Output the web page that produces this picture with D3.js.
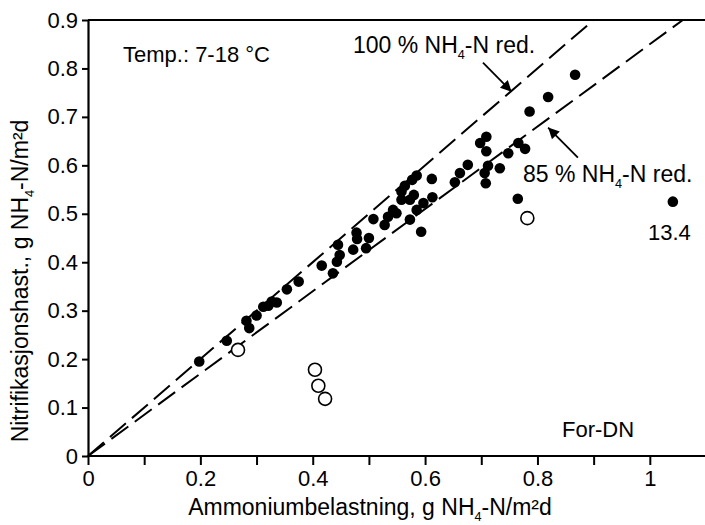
<!DOCTYPE html>
<html>
<head>
<meta charset="utf-8">
<script src="https://cdn.jsdelivr.net/npm/d3@7"></script>
<style>
body { margin: 0; background: #fff; }
text { font-family: "Liberation Sans", Arial, sans-serif; fill: #000; }
</style>
</head>
<body>
<svg id="chart" width="705" height="525"></svg>
<script>
// filled dots: [ammonium load, nitrification rate]
const filledPts = [
    [0.198, 0.195], [0.247, 0.238], [0.282, 0.279], [0.287, 0.264], [0.300, 0.290],
    [0.312, 0.308], [0.321, 0.310], [0.327, 0.319], [0.336, 0.317], [0.354, 0.344],
    [0.375, 0.360], [0.416, 0.393], [0.436, 0.377], [0.443, 0.401], [0.448, 0.415],
    [0.445, 0.436], [0.472, 0.426], [0.478, 0.461], [0.479, 0.448], [0.495, 0.429],
    [0.500, 0.450], [0.508, 0.489], [0.528, 0.477], [0.534, 0.494], [0.543, 0.508],
    [0.549, 0.501], [0.558, 0.546], [0.558, 0.529], [0.564, 0.558], [0.577, 0.570],
    [0.585, 0.579], [0.580, 0.539], [0.573, 0.529], [0.573, 0.488], [0.585, 0.508],
    [0.593, 0.463], [0.597, 0.522], [0.612, 0.572], [0.613, 0.534], [0.653, 0.565],
    [0.662, 0.584], [0.676, 0.601], [0.698, 0.646], [0.709, 0.659], [0.709, 0.629],
    [0.712, 0.599], [0.708, 0.563], [0.706, 0.584], [0.733, 0.594], [0.748, 0.625],
    [0.766, 0.646], [0.778, 0.634], [0.765, 0.531], [0.786, 0.711], [0.819, 0.741],
    [0.867, 0.787], [1.041, 0.525]
];
// open circles
const openPts = [
    [0.267, 0.219], [0.404, 0.178], [0.410, 0.145], [0.422, 0.118], [0.782, 0.491]
];
const xTicks = [0, 0.1, 0.2, 0.3, 0.4, 0.5, 0.6, 0.7, 0.8, 0.9, 1.0];
const xLabels = ['0', '', '0.2', '', '0.4', '', '0.6', '', '0.8', '', '1'];
const yTicks = [0, 0.1, 0.2, 0.3, 0.4, 0.5, 0.6, 0.7, 0.8, 0.9];
const yLabels = ['0', '0.1', '0.2', '0.3', '0.4', '0.5', '0.6', '0.7', '0.8', '0.9'];
// reference lines y = slope * x
const refSlopes = [1.0, 0.85];

const svg = d3.select('#chart');
const mLeft = 88, mRight = 706, mTop = 20, mBottom = 456;

const x = d3.scaleLinear().domain([0, 1.1]).range([mLeft, mRight]);
const y = d3.scaleLinear().domain([0, 0.9]).range([mBottom, mTop]);

// subscript text helper
function richText (g, px, py, parts, size, anchor) {
    let t = g.append('text')
        .attr('x', px).attr('y', py)
        .attr('font-size', size)
        .attr('text-anchor', anchor || 'start');
    parts.forEach((p) => {
        if (p.sub) {
            t.append('tspan').attr('font-size', size * 0.55).attr('dy', size * 0.25).text(p.sub);
            t.append('tspan').attr('dy', -size * 0.25).text(p.after);
        } else {
            t.append('tspan').text(p.t);
        }
    });
    return t;
}

// axes
let xAxis = d3.axisBottom(x)
    .tickValues(xTicks)
    .tickFormat((d, i) => { return xLabels[i]; })
    .tickSize(9)
    .tickPadding(5)
    .tickSizeOuter(0);
let yAxis = d3.axisLeft(y)
    .tickValues(yTicks)
    .tickFormat((d, i) => { return yLabels[i]; })
    .tickSize(6)
    .tickPadding(4)
    .tickSizeOuter(0);

let gx = svg.append('g').attr('transform', 'translate(0,' + mBottom + ')').call(xAxis);
let gy = svg.append('g').attr('transform', 'translate(' + mLeft + ',0)').call(yAxis);
[gx, gy].forEach((g) => {
    g.select('.domain').attr('stroke', '#000').attr('stroke-width', 2.2);
    g.selectAll('.tick line').attr('stroke', '#000').attr('stroke-width', 2);
    g.selectAll('.tick text')
        .attr('font-size', 22)
        .attr('font-family', '"Liberation Sans", Arial, sans-serif')
        .attr('fill', '#000');
});
gx.select('.domain').attr('d', 'M' + mLeft + ',0H705');

// top frame line
svg.append('line')
    .attr('x1', mLeft).attr('x2', 705)
    .attr('y1', mTop).attr('y2', mTop)
    .attr('stroke', '#000').attr('stroke-width', 2.2);

// dashed reference lines
svg.selectAll('line.ref')
    .data(refSlopes)
    .enter()
    .append('line')
    .attr('class', 'ref')
    .attr('x1', x(0)).attr('y1', y(0))
    .attr('x2', (d) => { return x(0.9 / d); })
    .attr('y2', y(0.9))
    .attr('stroke', '#000')
    .attr('stroke-width', 2)
    .attr('stroke-dasharray', '21,8');

// points
svg.selectAll('circle.filled')
    .data(filledPts)
    .enter()
    .append('circle')
    .attr('class', 'filled')
    .attr('cx', (d) => { return x(d[0]); })
    .attr('cy', (d) => { return y(d[1]); })
    .attr('r', 5.3)
    .attr('fill', '#000');

svg.selectAll('circle.open')
    .data(openPts)
    .enter()
    .append('circle')
    .attr('class', 'open')
    .attr('cx', (d) => { return x(d[0]); })
    .attr('cy', (d) => { return y(d[1]); })
    .attr('r', 6.5)
    .attr('fill', '#fff')
    .attr('stroke', '#000')
    .attr('stroke-width', 1.6);

// arrows
svg.append('defs').append('marker')
    .attr('id', 'arrow')
    .attr('viewBox', '0 0 10 10')
    .attr('refX', 10).attr('refY', 5)
    .attr('markerWidth', 14).attr('markerHeight', 11)
    .attr('markerUnits', 'userSpaceOnUse')
    .attr('orient', 'auto')
    .append('path')
    .attr('d', 'M0,0L10,5L0,10Z')
    .attr('fill', '#000');

const arrows = [
    { x1: 0.703, y1: 0.812, x2: 0.754, y2: 0.752 },
    { x1: 0.872, y1: 0.616, x2: 0.819, y2: 0.678 }
];
svg.selectAll('line.arrow')
    .data(arrows)
    .enter()
    .append('line')
    .attr('class', 'arrow')
    .attr('x1', (d) => { return x(d.x1); })
    .attr('y1', (d) => { return y(d.y1); })
    .attr('x2', (d) => { return x(d.x2); })
    .attr('y2', (d) => { return y(d.y2); })
    .attr('stroke', '#000')
    .attr('stroke-width', 1.8)
    .attr('marker-end', 'url(#arrow)');

// annotations
svg.append('text').attr('x', 123).attr('y', 62).attr('font-size', 22).text('Temp.: 7-18 °C');
richText(svg, 353, 53, [{ t: '100 % NH' }, { sub: '4', after: '-N red.' }], 23);
richText(svg, 523, 182, [{ t: '85 % NH' }, { sub: '4', after: '-N red.' }], 23);
svg.append('text').attr('x', 648).attr('y', 240).attr('font-size', 22).text('13.4');
svg.append('text').attr('x', 562).attr('y', 437).attr('font-size', 22).text('For-DN');

// axis titles
richText(svg, 370, 515,
    [{ t: 'Ammoniumbelastning, g NH' }, { sub: '4', after: '-N/m²d' }], 23, 'middle');
let yt = svg.append('g').attr('transform', 'translate(28,281) rotate(-90)');
richText(yt, 0, 0,
    [{ t: 'Nitrifikasjonshast., g NH' }, { sub: '4', after: '-N/m²d' }], 23, 'middle');
</script>
</body>
</html>
